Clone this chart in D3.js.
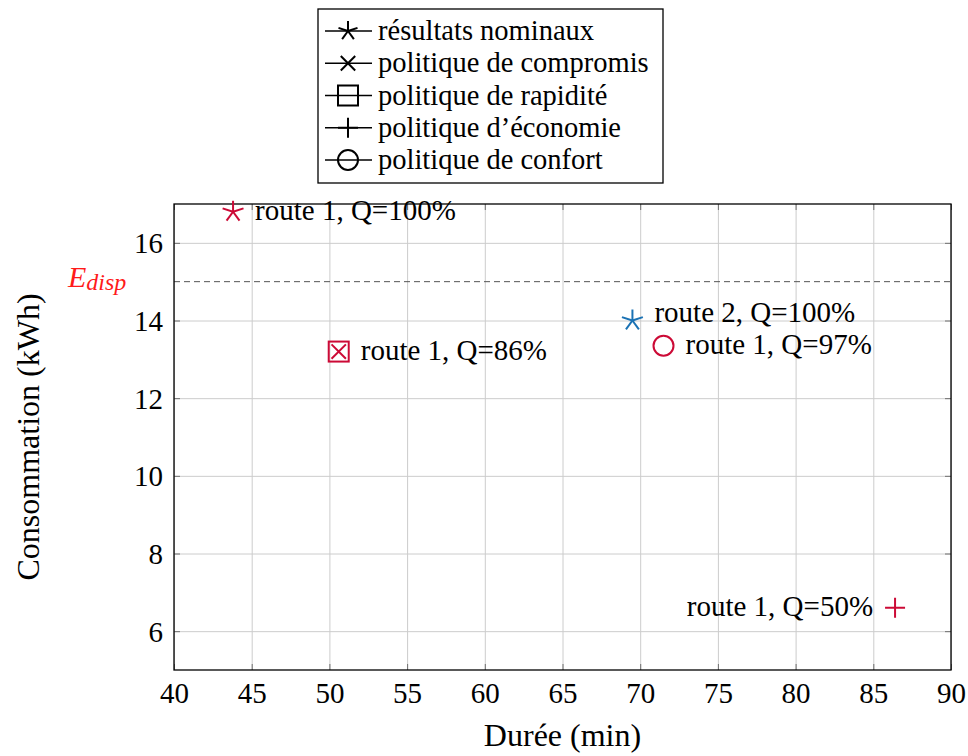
<!DOCTYPE html>
<html>
<head>
<meta charset="utf-8">
<script src="https://cdn.jsdelivr.net/npm/d3@7"></script>
<style>
  body { margin: 0; background: #fff; }
  text { font-family: "Liberation Serif", "DejaVu Serif", serif; fill: #000; }
</style>
</head>
<body>
<svg id="chart"></svg>
<script>
// policies (legend order) and their marker shapes
const policies = ['résultats nominaux', 'politique de compromis', 'politique de rapidité',
  'politique d’économie', 'politique de confort'];
const policyMarkers = ['star', 'x', 'square', 'plus', 'circle'];

// one entry per plotted marker
const durations = [43.8, 69.5, 50.6, 50.6, 86.4, 71.5];
const consumptions = [16.8, 14.0, 13.2, 13.2, 6.6, 13.35];
const pointPolicy = [0, 0, 1, 2, 3, 4];
const pointRoute = [1, 2, 1, 1, 1, 1];
const pointQuality = [100, 100, 86, 86, 50, 97];
const labelSide = ['right', 'upright', 'right', null, 'left', 'right'];

const xTicks = [40, 45, 50, 55, 60, 65, 70, 75, 80, 85, 90];
const yTicks = [6, 8, 10, 12, 14, 16];
const eDisp = 15;

const routeColors = { 1: '#cc0a36', 2: '#1a72b4' };

const W = 968;
const H = 756;
const margin = { top: 204, right: 17, bottom: 86, left: 174 };
const width = W - margin.left - margin.right;
const height = H - margin.top - margin.bottom;

const svg = d3.select('#chart').attr('width', W).attr('height', H);
const chart = svg.append('g').attr('transform', `translate(${margin.left},${margin.top})`);

const x = d3.scaleLinear().domain([40, 90]).range([0, width]);
const y = d3.scaleLinear().domain([5, 17]).range([height, 0]);

// grid
chart.append('g')
  .call(d3.axisBottom(x).tickValues(xTicks).tickSize(height).tickFormat(''))
  .call((g) => g.select('.domain').remove())
  .selectAll('line').attr('stroke', '#cccccc').attr('stroke-width', 1);
chart.append('g')
  .call(d3.axisLeft(y).tickValues(yTicks).tickSize(-width).tickFormat(''))
  .call((g) => g.select('.domain').remove())
  .selectAll('line').attr('stroke', '#cccccc').attr('stroke-width', 1);

// inner tick marks
const tickLen = 6;
[[d3.axisBottom(x), height, -tickLen], [d3.axisTop(x), 0, tickLen]].forEach(([ax, ty, len]) => {
  chart.append('g').attr('transform', `translate(0,${ty})`)
    .call(ax.tickValues(xTicks).tickFormat(''))
    .call((g) => g.select('.domain').remove())
    .selectAll('line').attr('stroke', '#707070').attr('y2', len);
});
[[d3.axisLeft(y), 0, tickLen], [d3.axisRight(y), width, -tickLen]].forEach(([ax, tx, len]) => {
  chart.append('g').attr('transform', `translate(${tx},0)`)
    .call(ax.tickValues(yTicks).tickFormat(''))
    .call((g) => g.select('.domain').remove())
    .selectAll('line').attr('stroke', '#707070').attr('x2', len);
});

// tick labels
chart.append('g').attr('transform', `translate(0,${height})`)
  .call(d3.axisBottom(x).tickValues(xTicks).tickSize(0).tickPadding(12))
  .call((g) => g.select('.domain').remove())
  .selectAll('text')
  .style('font-size', '29px')
  .style('font-family', '"Liberation Serif", serif')
  .attr('dy', '0.71em');
chart.append('g')
  .call(d3.axisLeft(y).tickValues(yTicks).tickSize(0).tickPadding(11))
  .call((g) => g.select('.domain').remove())
  .selectAll('text')
  .style('font-size', '29px')
  .style('font-family', '"Liberation Serif", serif')
  .attr('dy', '0.34em');

// E_disp dashed line
chart.append('line')
  .attr('x1', 0).attr('x2', width)
  .attr('y1', y(eDisp)).attr('y2', y(eDisp))
  .attr('stroke', '#555').attr('stroke-width', 1)
  .attr('stroke-dasharray', '6,4');

const eLabel = chart.append('text')
  .attr('x', -106)
  .attr('y', y(eDisp) + 5)
  .style('font-size', '30px')
  .style('font-style', 'italic')
  .style('fill', '#ff1a1a');
eLabel.append('tspan').text('E');
eLabel.append('tspan').attr('dy', 3).style('font-size', '24px').text('disp');

// frame
chart.append('rect')
  .attr('width', width).attr('height', height)
  .attr('fill', 'none').attr('stroke', '#000').attr('stroke-width', 1.3);

// marker drawing
function drawMarker(g, shape, color, r) {
  if (shape === 'star') {
    d3.range(5).forEach((k) => {
      const a = -Math.PI / 2 + (k * 2 * Math.PI) / 5;
      g.append('line').attr('x1', 0).attr('y1', 0)
        .attr('x2', r * Math.cos(a)).attr('y2', r * Math.sin(a))
        .attr('stroke', color).attr('stroke-width', 2);
    });
  } else if (shape === 'x') {
    const s = r * 0.72;
    g.append('path').attr('d', `M${-s},${-s}L${s},${s}M${-s},${s}L${s},${-s}`)
      .attr('stroke', color).attr('stroke-width', 2).attr('fill', 'none');
  } else if (shape === 'square') {
    g.append('rect').attr('x', -r).attr('y', -r).attr('width', 2 * r).attr('height', 2 * r)
      .attr('stroke', color).attr('stroke-width', 2).attr('fill', 'none');
  } else if (shape === 'plus') {
    g.append('path').attr('d', `M${-r},0L${r},0M0,${-r}L0,${r}`)
      .attr('stroke', color).attr('stroke-width', 2).attr('fill', 'none');
  } else if (shape === 'circle') {
    g.append('circle').attr('r', r)
      .attr('stroke', color).attr('stroke-width', 2).attr('fill', 'none');
  }
}

// data markers
durations.forEach((d, i) => {
  const shape = policyMarkers[pointPolicy[i]];
  const g = chart.append('g')
    .attr('transform', `translate(${x(d)},${y(consumptions[i])})`);
  drawMarker(g, shape, routeColors[pointRoute[i]], shape === 'star' ? 11 : 10);

  const side = labelSide[i];
  if (!side) return;
  const txt = `route ${pointRoute[i]}, Q=${pointQuality[i]}%`;
  const label = chart.append('text')
    .style('font-size', '29px')
    .attr('y', y(consumptions[i]) + (side === 'upright' ? 1 : 8))
    .text(txt);
  if (side === 'left') {
    label.attr('x', x(d) - 22).attr('text-anchor', 'end');
  } else {
    label.attr('x', x(d) + 22).attr('text-anchor', 'start');
  }
});

// axis titles
svg.append('text')
  .attr('x', margin.left + width / 2)
  .attr('y', 746)
  .attr('text-anchor', 'middle')
  .style('font-size', '32px')
  .text('Durée (min)');
svg.append('text')
  .attr('transform', `translate(39,${margin.top + height / 2}) rotate(-90)`)
  .attr('text-anchor', 'middle')
  .style('font-size', '32px')
  .text('Consommation (kWh)');

// legend
const legend = svg.append('g').attr('transform', 'translate(318,9)');
legend.append('rect')
  .attr('width', 345).attr('height', 174)
  .attr('fill', '#fff').attr('stroke', '#000').attr('stroke-width', 1.3);
const rowY = d3.scalePoint().domain(policies).range([22, 151]);
policies.forEach((p, i) => {
  const row = legend.append('g').attr('transform', `translate(0,${rowY(p)})`);
  row.append('line').attr('x1', 7).attr('x2', 54)
    .attr('stroke', '#000').attr('stroke-width', 1.3);
  const m = row.append('g').attr('transform', 'translate(30,0)');
  drawMarker(m, policyMarkers[i], '#000', 10);
  row.append('text').attr('x', 60).attr('y', 9)
    .style('font-size', '28.5px')
    .text(p);
});
</script>
</body>
</html>
